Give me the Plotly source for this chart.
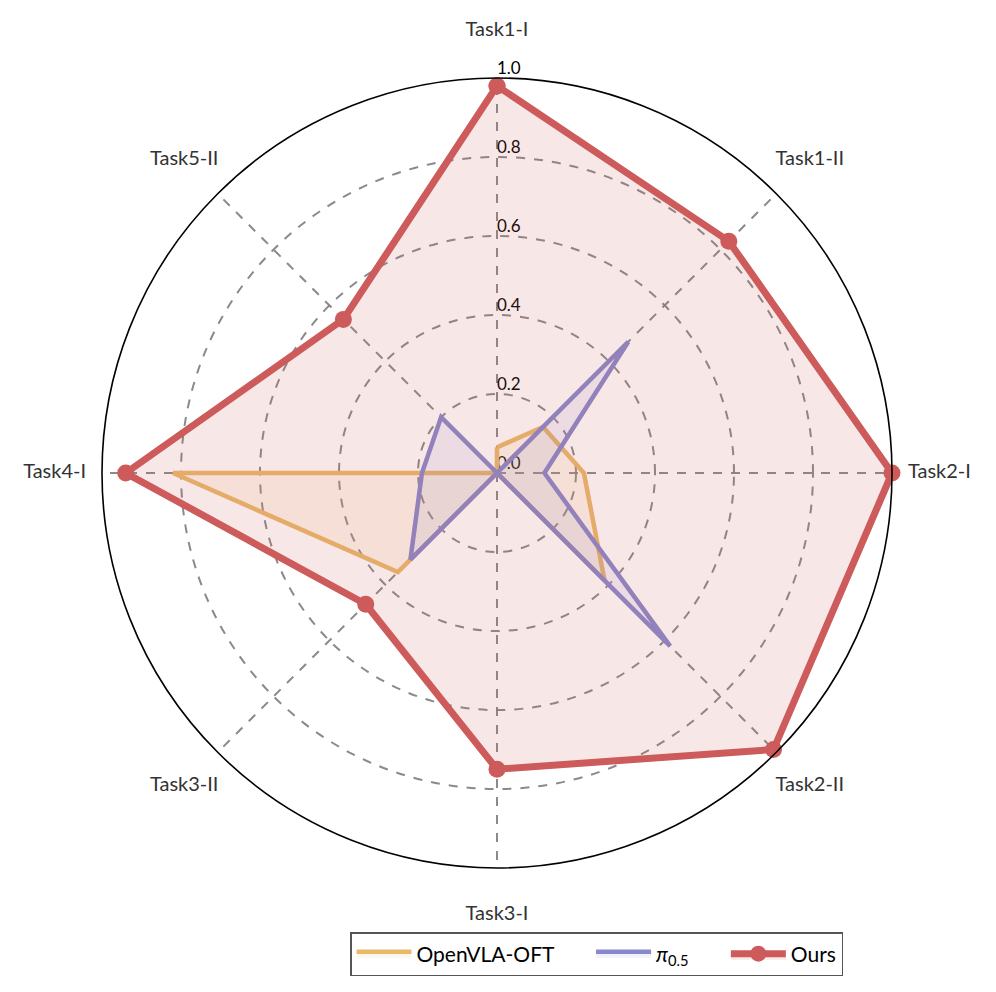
import plotly.graph_objects as go

# categorias en sentido horario desde arriba
tareas = ["Task1-I", "Task1-II", "Task2-I", "Task2-II", "Task3-I", "Task3-II", "Task4-I", "Task5-II"]

openvla_oft = [0.065, 0.165, 0.22, 0.385, 0.0, 0.355, 0.82, 0.0]
pi05 = [0.0, 0.47, 0.12, 0.62, 0.0, 0.31, 0.19, 0.2]
ours = [0.98, 0.83, 1.0, 0.99, 0.75, 0.47, 0.94, 0.55]

ticks_r = [0.0, 0.2, 0.4, 0.6, 0.8, 1.0]
ticks_txt = ["0.0", "0.2", "0.4", "0.6", "0.8", "1.0"]

fuente = "Lato, 'Open Sans', sans-serif"
esp = "\u00a0" * 6  # espacio extra entre entradas de la leyenda

# geometria (px de la figura): centro, radio del circulo y radio de las etiquetas
W, H = 996, 992
cx, cy, radio = 489, 465, 395
r_etiq = 1.12


def cerrar(lista):
    # repetir el primer punto para cerrar el poligono
    return lista + lista[:1]


def dominio(rad):
    # dominio en coordenadas de papel para un circulo de radio rad px
    return dict(x=[(cx - rad) / W, (cx + rad) / W],
                y=[1 - (cy + rad) / H, 1 - (cy - rad) / H])


fig = go.Figure()

# nombres de las tareas, en un polar auxiliar mas grande (sin ejes visibles)
fig.add_trace(go.Scatterpolar(
    r=[r_etiq] * len(tareas), theta=tareas,
    text=tareas, mode="text", textposition="middle center",
    textfont=dict(size=20, color="#333333", family=fuente),
    showlegend=False, hoverinfo="skip", subplot="polar",
))

# etiquetas del eje radial (debajo de las series)
fig.add_trace(go.Scatterpolar(
    r=ticks_r, theta=[tareas[0]] * len(ticks_r),
    text=ticks_txt, mode="text", textposition="top right",
    textfont=dict(size=17, color="black", family=fuente),
    showlegend=False, hoverinfo="skip", subplot="polar2",
))

fig.add_trace(go.Scatterpolar(
    r=cerrar(openvla_oft), theta=cerrar(tareas),
    name="OpenVLA-OFT" + esp, mode="lines",
    line=dict(color="#E9B96A", width=4.5),
    fill="toself", fillcolor="rgba(233,185,106,0.12)", subplot="polar2",
))

fig.add_trace(go.Scatterpolar(
    r=cerrar(pi05), theta=cerrar(tareas),
    name="<i>π</i><sub>0.5</sub>" + esp, mode="lines",
    line=dict(color="#8888CC", width=4.5),
    fill="toself", fillcolor="rgba(136,136,204,0.12)", subplot="polar2",
))

fig.add_trace(go.Scatterpolar(
    r=cerrar(ours), theta=cerrar(tareas),
    name="Ours", mode="lines+markers",
    line=dict(color="#CD5B5B", width=7),
    marker=dict(size=17, color="#CD5B5B"),
    fill="toself", fillcolor="rgba(205,91,91,0.15)", subplot="polar2",
))

eje_oculto = dict(showline=False, showgrid=False, showticklabels=False, ticks="")
grilla = dict(gridcolor="rgba(125,125,125,0.9)", gridwidth=2, griddash="dash")

fig.update_layout(
    width=W, height=H,
    margin=dict(l=0, r=0, t=0, b=0),
    paper_bgcolor="white",
    font=dict(family=fuente, size=18, color="#222222"),
    polar=dict(
        domain=dominio(radio * r_etiq),
        bgcolor="rgba(0,0,0,0)",
        radialaxis=dict(range=[0, r_etiq], **eje_oculto),
        angularaxis=dict(direction="clockwise", rotation=90,
                         categoryorder="array", categoryarray=tareas, **eje_oculto),
    ),
    polar2=dict(
        domain=dominio(radio),
        bgcolor="white",
        radialaxis=dict(
            range=[0, 1], tickvals=ticks_r, showticklabels=False,
            ticks="", showline=False, **grilla,
        ),
        angularaxis=dict(
            direction="clockwise", rotation=90,
            categoryorder="array", categoryarray=tareas,
            showticklabels=False, ticks="",
            linecolor="black", linewidth=1.6, **grilla,
        ),
    ),
    legend=dict(
        orientation="h", x=835 / W, xanchor="right", y=1 - 924 / H, yanchor="top",
        bgcolor="white", bordercolor="#555555", borderwidth=1.5,
        font=dict(size=21, color="black", family=fuente),
        itemwidth=55,
    ),
)

fig.write_html("out.html")
print("grafico hecho")
